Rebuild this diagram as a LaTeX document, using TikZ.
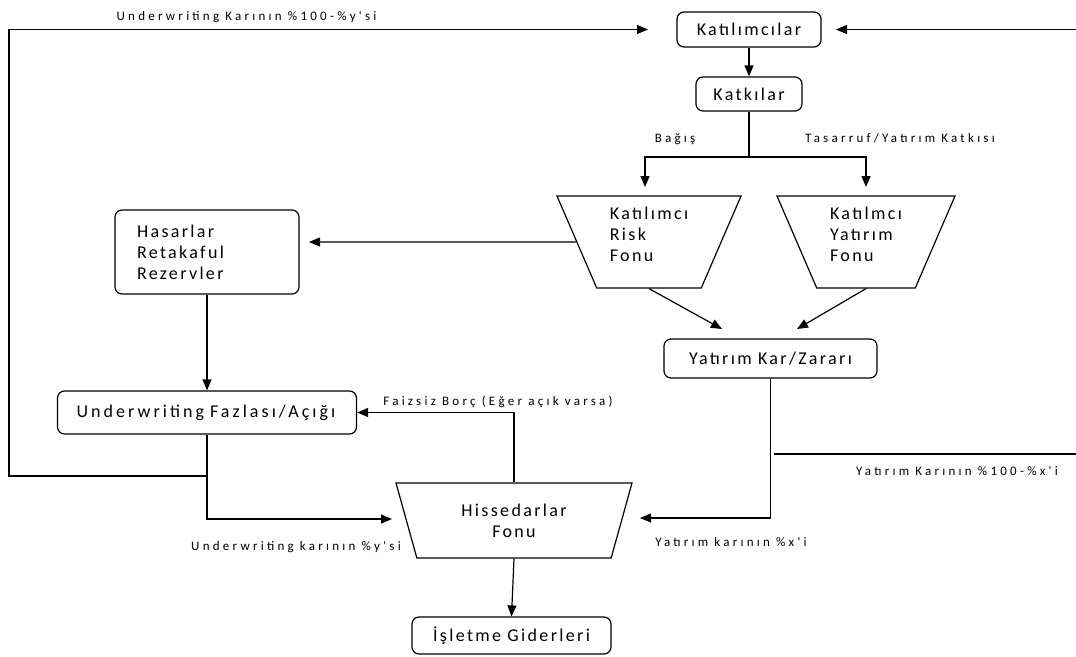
\documentclass[tikz,border=0pt]{standalone}
\usepackage{fontspec}
\setmainfont{Carlito}
\newfontfamily\boxfnt{Carlito}[LetterSpace=13]
\newfontfamily\uwfnt{Carlito}[LetterSpace=17]
\newfontfamily\lblfnt{Carlito}[LetterSpace=25]
\usetikzlibrary{arrows.meta,shapes.geometric,calc}
\begin{document}
\begin{tikzpicture}[x=1pt,y=-1pt,
  every node/.style={inner sep=0pt},
  conn/.style={line width=1.2pt},
  arr/.style={conn,-{Triangle[length=11pt,width=9pt]}},
  rbox/.style={draw,rounded corners=7pt,line width=1.2pt,font=\boxfnt\fontsize{18}{21}\selectfont},
  trap/.style={draw,trapezium,trapezium stretches body,shape border rotate=180,line width=1.2pt,font=\boxfnt\fontsize{18}{21}\selectfont},
  lbl/.style={font=\lblfnt\fontsize{13}{15}\selectfont,anchor=base}]
\useasboundingbox (0,0) rectangle (1076,656);

% boxes
\node[rbox,minimum width=144pt,minimum height=35pt] (kat) at (749,29.5) {Katılımcılar};
\node[rbox,minimum width=106pt,minimum height=34pt] (katk) at (749,94) {Katkılar};
\node[trap,minimum width=184pt,minimum height=92pt,trapezium left angle=60.6,trapezium right angle=60.6,align=left] (risk) at (649,242) {Katılımcı\\Risk\\Fonu\rule[-16pt]{0pt}{16pt}};
\node[trap,minimum width=178pt,minimum height=92pt,trapezium left angle=60.6,trapezium right angle=60.6,align=left] (yfon) at (866,242) {Katılmcı\\Yatırım\\Fonu\rule[-16pt]{0pt}{16pt}};
\node[rbox,minimum width=184pt,minimum height=84pt,text width=140pt,align=left] (has) at (207,252) {Hasarlar\\Retakaful\\Rezervler};
\node[rbox,minimum width=299pt,minimum height=43pt,text width=261pt,align=left,font=\uwfnt\fontsize{18}{21}\selectfont] (uw) at (207,412.5) {Underwriting Fazlası/Açığı};
\node[rbox,minimum width=213pt,minimum height=39pt] (ykz) at (770.5,358.5) {Yatırım Kar/Zararı};
\node[trap,minimum width=236pt,minimum height=75pt,trapezium left angle=58.2,trapezium right angle=58.2,align=center] (hiss) at (514,520.5) {Hissedarlar\\Fonu};
\node[rbox,minimum width=199pt,minimum height=37pt] (isl) at (511.5,635.5) {İşletme Giderleri};

% coordinates for free ends
\coordinate (split) at (749,157);
\coordinate (rin) at (645,187);
\coordinate (yin) at (866,187);
\coordinate (hasin) at (309,242);
\coordinate (ykzl) at (722,329);
\coordinate (ykzr) at (797,329);
\coordinate (j1) at (207,476);
\coordinate (lc) at (9,476);
\coordinate (katin) at (648,29.5);
\coordinate (hissin) at (392,519);
\coordinate (hissr) at (640,518);
\coordinate (rr) at (1076,29.5);
\coordinate (katr) at (836,29.5);
\coordinate (ya) at (774,454);
\coordinate (yb) at (1076,454);

% connectors
\draw[arr] (kat) -- (katk);
\draw[conn] (katk.south) -- (split);
\draw[arr] (split) -| (rin);
\draw[arr] (split) -| (yin);
\draw[arr] (risk.west) -- (hasin);
\draw[arr] (risk.south) -- (ykzl);
\draw[arr] (yfon.south) -- (ykzr);
\draw[arr] (has.south) -- (uw.north);
\draw[arr] (uw.south) |- (hissin);
\draw[arr] (j1) -- (lc) |- (katin);
\draw[arr] (hiss.north) |- (uw.east);
\draw[arr] (hiss.south) -- (isl.north);
\draw[arr] (ykz.south) |- (hissr);
\draw[arr] (rr) -- (katr);
\draw[conn] (ya) -- (yb);

% labels
\node[lbl] (l1) at (246.5,20) {Underwriting Karının \%100-\%y'si};
\node[lbl] (lbagis) at (675,142) {Bağış};
\node[lbl] (ltas) at (900,142) {Tasarruf/Yatırım Katkısı};
\node[lbl] (lfaiz) at (498,405) {Faizsiz Borç (Eğer açık varsa)};
\node[lbl] (luwk) at (296,550) {Underwriting karının \%y'si};
\node[lbl] (lyk) at (731,546.7) {Yatırım karının \%x'i};
\node[lbl] (lyk100) at (957,475) {Yatırım Karının \%100-\%x'i};
\end{tikzpicture}
\end{document}
